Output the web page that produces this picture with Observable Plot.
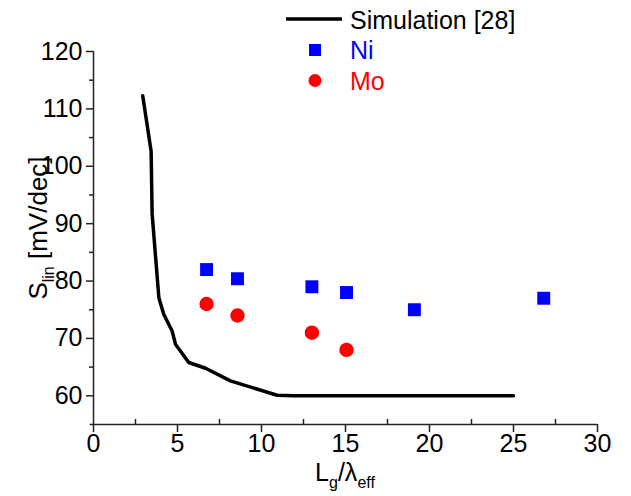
<!DOCTYPE html>
<html><head><meta charset="utf-8">
<script src="https://cdn.jsdelivr.net/npm/d3@7"></script>
<script src="https://cdn.jsdelivr.net/npm/@observablehq/plot@0.6"></script>
<style>
body{margin:0;background:#fff;}
#wrap{width:631px;height:496px;}
</style></head><body><div id="wrap"></div>
<script>
// Simulation [28] curve
const simX = [2.93, 3.43, 3.49, 3.89, 4.18, 4.68, 4.88, 5.67, 6.67, 8.15, 10.93, 11.92, 25];
const simY = [112.3, 102.6, 91.7, 77.1, 74.2, 71.3, 69.0, 65.8, 64.8, 62.6, 60.1, 60.0, 60.0];
// Ni measurements
const niX = [6.73, 8.57, 13.0, 15.06, 19.1, 26.8];
const niY = [82.0, 80.4, 79.0, 78.0, 75.0, 77.0];
// Mo measurements
const moX = [6.73, 8.57, 13.0, 15.06];
const moY = [76.0, 74.0, 71.0, 68.0];
// ticks
const xTicks = [0, 5, 10, 15, 20, 25, 30];
const xMinor = [2.5, 7.5, 12.5, 17.5, 22.5, 27.5];
const yTicks = [60, 70, 80, 90, 100, 110, 120];
const yMinor = [65, 75, 85, 95, 105, 115];
const seriesNames = ["Simulation [28]", "Ni", "Mo"];

const sim = simX.map((x, i) => ({x, y: simY[i]}));
const ni = niX.map((x, i) => ({x, y: niY[i]}));
const mo = moX.map((x, i) => ({x, y: moY[i]}));

const font = "'Liberation Sans', Arial, sans-serif";
const axisCol = "#222";

const chart = Plot.plot({
  width: 631, height: 496,
  marginLeft: 93, marginRight: 34, marginTop: 51, marginBottom: 72,
  x: {domain: [0, 30]},
  y: {domain: [55, 120]},
  style: {fontFamily: font, fontSize: "25px", color: "#000", background: "#fff", overflow: "visible"},
  marks: [
    Plot.ruleX([0], {y1: 55, y2: 120, stroke: axisCol, strokeWidth: 1.5}),
    Plot.ruleY([55], {x1: -0.2, x2: 30, stroke: axisCol, strokeWidth: 1.5}),
    Plot.axisX({ticks: xTicks, tickSize: 8, tickPadding: 2, label: null, stroke: axisCol, strokeWidth: 1.5, fontSize: 25}),
    Plot.axisX({ticks: xMinor, tickSize: -5, tickFormat: () => "", label: null, stroke: axisCol, strokeWidth: 1.5}),
    Plot.axisY({ticks: yTicks, tickSize: 7, tickPadding: 4, label: null, stroke: axisCol, strokeWidth: 1.5, fontSize: 25}),
    Plot.axisY({ticks: yMinor, tickSize: 4, tickFormat: () => "", label: null, stroke: axisCol, strokeWidth: 1.5}),
    Plot.line(sim, {x: "x", y: "y", stroke: "#000", strokeWidth: 3.5, strokeLinejoin: "miter"}),
    Plot.dot(ni, {x: "x", y: "y", symbol: "square", fill: "#0000ff", r: 7.3}),
    Plot.dot(mo, {x: "x", y: "y", symbol: "circle", fill: "#ff0000", r: 7.2})
  ]
});
document.getElementById("wrap").appendChild(chart);

// axis titles and legend (annotations)
const svg = d3.select(chart);
const g = svg.append("g").attr("font-family", font).attr("fill", "#000");

const xt = g.append("text").attr("x", 345).attr("y", 481).attr("text-anchor", "middle").attr("font-size", 25);
xt.append("tspan").text("L");
xt.append("tspan").attr("font-size", 16).attr("dy", 7).text("g");
xt.append("tspan").attr("dy", -7).text("/λ");
xt.append("tspan").attr("font-size", 16).attr("dy", 7).text("eff");

const yt = g.append("text").attr("transform", "translate(47,228) rotate(-90)").attr("text-anchor", "middle").attr("font-size", 26);
yt.append("tspan").text("S");
yt.append("tspan").attr("font-size", 16).attr("dy", 7).text("lin");
yt.append("tspan").attr("dy", -7).text(" [mV/dec]");

const lg = g.append("g").attr("text-anchor", "start");
lg.append("line").attr("x1", 286).attr("x2", 342).attr("y1", 19).attr("y2", 19).attr("stroke", "#000").attr("stroke-width", 3.5);
lg.append("text").attr("x", 350).attr("y", 29).attr("font-size", 25).text(seriesNames[0]);
lg.append("rect").attr("x", 309).attr("y", 44).attr("width", 12).attr("height", 12).attr("fill", "#0000ff");
lg.append("text").attr("x", 350).attr("y", 59).attr("font-size", 25).attr("fill", "#0000ff").text(seriesNames[1]);
lg.append("circle").attr("cx", 315).attr("cy", 80.5).attr("r", 6.5).attr("fill", "#ff0000");
lg.append("text").attr("x", 350).attr("y", 90).attr("font-size", 25).attr("fill", "#ff0000").text(seriesNames[2]);
</script></body></html>
